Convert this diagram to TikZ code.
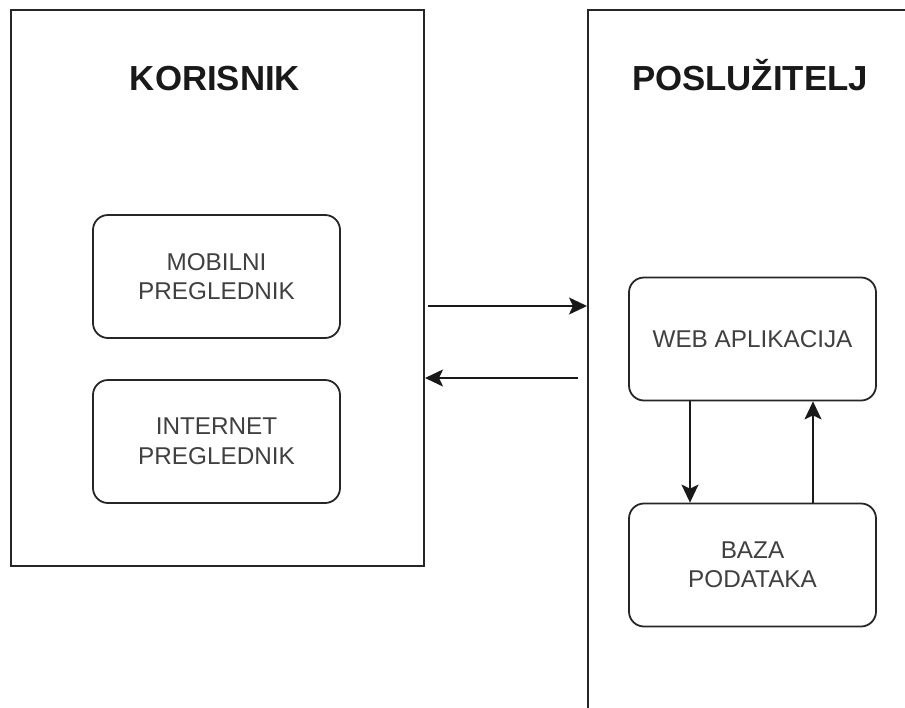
\documentclass[tikz,border=0pt]{standalone}
\usepackage{fontspec}
\setmainfont{Liberation Sans}
\usetikzlibrary{arrows.meta}

\tikzset{
  frame/.style={draw=black!85, line width=2pt, rectangle, inner sep=0pt},
  title/.style={font=\fontsize{34.8}{40}\selectfont\bfseries, text=black!90, anchor=base},
  block/.style={draw=black!85, line width=1.8pt, rectangle, rounded corners=15pt,
    minimum width=247pt, minimum height=123pt, inner sep=0pt, align=center,
    font=\fontsize{24.3}{29.5}\selectfont, text=black!75},
  link/.style={line width=1.8pt, draw=black!90,
    -{Stealth[length=18pt, width=17pt, inset=4pt]}},
}

\begin{document}
\begin{tikzpicture}[x=1pt, y=-1pt]
  \useasboundingbox (0,0) rectangle (905,707);
  \fill[white] (0,0) rectangle (905,707);
  \clip (0,0) rectangle (905,707);

  % client and server frames
  \node[frame, minimum width=413pt, minimum height=556pt, anchor=north west] (client) at (10,9) {};
  \node[frame, minimum width=420pt, minimum height=800pt, anchor=north west] (server) at (587,9) {};

  \node[title] (clientTitle) at (215,90) {KORISNIK};
  \node[title] (serverTitle) at (750,90) {POSLUŽITELJ};

  % client-side browsers
  \node[block] (mobile) at (216.5,276.5) {MOBILNI\\PREGLEDNIK};
  \node[block] (desktop) at (216.5,441.5) {INTERNET\\PREGLEDNIK};

  % server-side components
  \node[block] (webapp) at (752.5,339) {WEB APLIKACIJA};
  \node[block] (db) at (752.5,565) {BAZA\\PODATAKA};

  % requests and responses between client and server
  \coordinate (reqStart) at (428,306);
  \coordinate (respStart) at (578,378);
  \draw[link] (reqStart) -- (reqStart -| server.west);
  \draw[link] (respStart) -- (respStart -| client.east);

  % web application <-> database
  \draw[link] (webapp.south -| 690,0) -- (db.north -| 690,0);
  \draw[link] (db.north -| 813,0) -- (webapp.south -| 813,0);
\end{tikzpicture}
\end{document}
